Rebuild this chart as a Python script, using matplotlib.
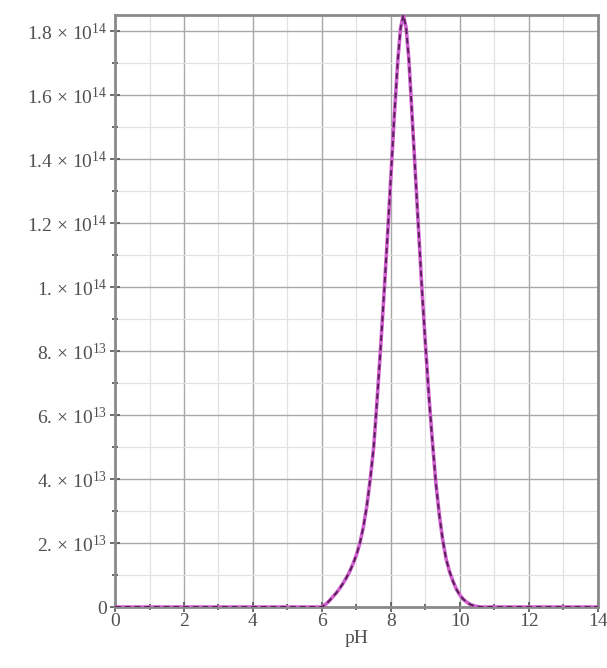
import numpy as np
import matplotlib
matplotlib.use("Agg")
import matplotlib.pyplot as plt
from matplotlib.ticker import MultipleLocator

plt.rcParams['font.family'] = ['Liberation Serif', 'DejaVu Serif']
plt.rcParams['mathtext.fontset'] = 'custom'
plt.rcParams['mathtext.rm'] = 'Liberation Serif'
plt.rcParams['mathtext.it'] = 'Liberation Serif:italic'

# values (value in units of 1e13)
ph = [0, 5.5, 6.0, 6.1, 6.2, 6.3, 6.4, 6.5, 6.6, 6.7, 6.8, 6.9, 7.0, 7.1, 7.2,
      7.3, 7.4, 7.5, 7.6, 7.7, 7.8, 7.9, 8.0, 8.1, 8.2, 8.28, 8.36, 8.44, 8.52,
      8.6, 8.7, 8.8, 8.9, 9.0, 9.1, 9.2, 9.3, 9.4, 9.5, 9.6, 9.7, 9.8, 9.9,
      10.0, 10.1, 10.2, 10.3, 10.4, 10.5, 10.6, 14]
val = [0, 0, 0, 0.08, 0.18, 0.3, 0.42, 0.56, 0.72, 0.9, 1.1, 1.35, 1.63, 2.0, 2.5,
       3.15, 4.0, 5.0, 6.5, 8.1, 9.8, 11.6, 13.5, 15.4, 17.1, 18.1, 18.5, 18.1, 17.1,
       15.6, 13.7, 11.8, 9.9, 8.2, 6.6, 5.2, 3.9, 2.9, 2.1, 1.5, 1.1, 0.8, 0.55,
       0.37, 0.24, 0.15, 0.08, 0.04, 0.015, 0, 0]
yticks = [0, 2e13, 4e13, 6e13, 8e13, 1e14, 1.2e14, 1.4e14, 1.6e14, 1.8e14]
ylabels = ["0", "2. × 10$^{13}$", "4. × 10$^{13}$", "6. × 10$^{13}$",
           "8. × 10$^{13}$", "1. × 10$^{14}$", "1.2 × 10$^{14}$",
           "1.4 × 10$^{14}$", "1.6 × 10$^{14}$", "1.8 × 10$^{14}$"]
xticks = [0, 2, 4, 6, 8, 10, 12, 14]

y = np.array(val) * 1e13

fig = plt.figure(figsize=(6.07, 6.68), dpi=100)
ax = fig.add_axes([0.1895, 0.0913, 0.7955, 0.8862])

ax.plot(ph, y, color='#d060d0', lw=2.6, solid_capstyle='butt', zorder=3)
ax.plot(ph, y, color='#5a1f5a', lw=1.4, ls=(0, (3, 2)), zorder=4)

ax.set_xlim(0, 14)
ax.set_ylim(0, 1.85e14)
ax.set_xticks(xticks)
ax.set_xticklabels([str(t) for t in xticks])
ax.set_yticks(yticks)
ax.set_yticklabels(ylabels)
ax.xaxis.set_minor_locator(MultipleLocator(1))
ax.yaxis.set_minor_locator(MultipleLocator(1e13))

ax.grid(which='major', color='#a8a8a8', lw=1.0)
ax.grid(which='minor', color='#e2e2e2', lw=0.9)
ax.set_axisbelow(True)

for s in ax.spines.values():
    s.set_color('#8a8a8a')
    s.set_linewidth(2)

ax.tick_params(which='major', direction='inout', length=7, width=1.2,
               color='#555555', labelsize=14, labelcolor='#505050', pad=2)
ax.tick_params(which='minor', direction='inout', length=4, width=1.2,
               color='#555555')
ax.tick_params(axis='x', pad=1)

ax.set_xlabel('pH', fontsize=14, color='#505050', labelpad=0)

fig.savefig('out.png', dpi=100)
